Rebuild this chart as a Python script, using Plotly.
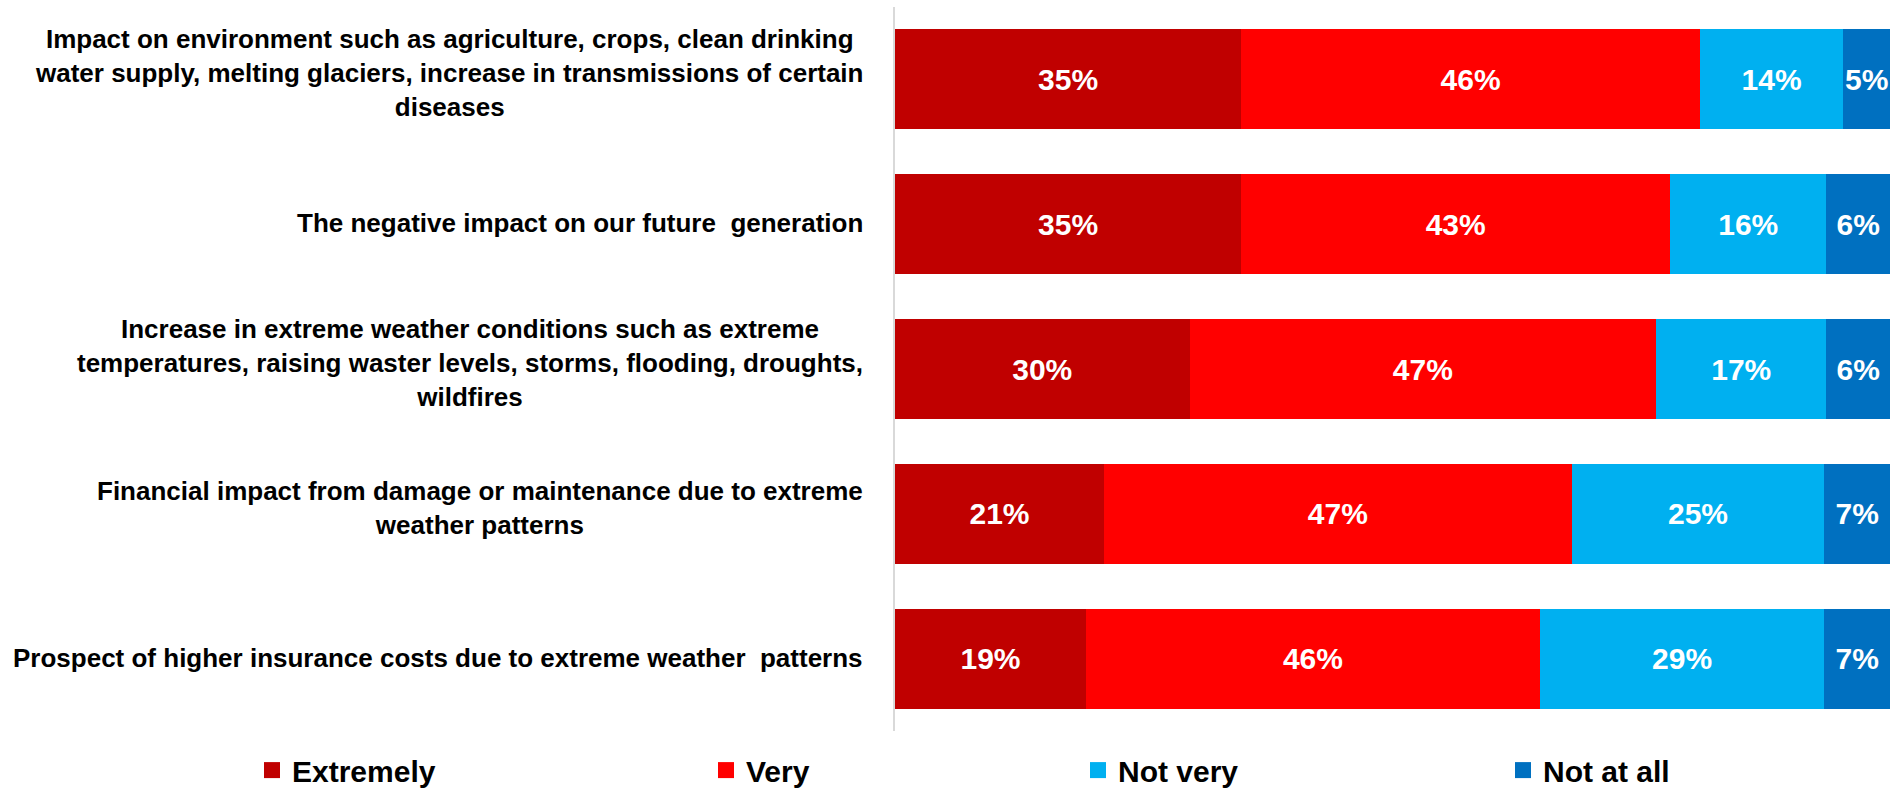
import plotly.graph_objects as go

categories = [
    "Impact on environment such as agriculture, crops, clean drinking<br>water supply, melting glaciers, increase in transmissions of certain<br>diseases",
    "The negative impact on our future  generation",
    "Increase in extreme weather conditions such as extreme<br>temperatures, raising waster levels, storms, flooding, droughts,<br>wildfires",
    "Financial impact from damage or maintenance due to extreme<br>weather patterns",
    "Prospect of higher insurance costs due to extreme weather  patterns",
]

extremely = [34.8, 34.8, 29.6, 21.0, 19.2]
very = [46.1, 43.1, 46.9, 47.0, 45.6]
not_very = [14.4, 15.7, 17.1, 25.4, 28.6]
not_at_all = [4.7, 6.4, 6.4, 6.6, 6.6]

series_names = ["Extremely", "Very", "Not very", "Not at all"]
series_values = [extremely, very, not_very, not_at_all]
colors = ["#C00000", "#FF0000", "#00B0F0", "#0070C0"]

FONT = "Arial, Liberation Sans, sans-serif"

fig = go.Figure()
for name, vals, col in zip(series_names, series_values, colors):
    fig.add_trace(go.Bar(
        y=categories, x=vals, orientation="h", name=name,
        marker=dict(color=col, line=dict(width=0)),
        texttemplate="%{x:.0f}%", textposition="inside", textangle=0,
        insidetextanchor="middle", constraintext="none",
        textfont=dict(family=FONT, size=30, color="white", weight="bold"),
        showlegend=False, hoverinfo="skip",
    ))

# legend entries (one legend per item so each can be placed like the original)
legend_ids = ["legend", "legend2", "legend3", "legend4"]
legend_x_px = [252, 706, 1078, 1503]
plot_left, plot_right = 895, 1890
for name, col, lid in zip(series_names, colors, legend_ids):
    fig.add_trace(go.Scatter(
        x=[None], y=[None], mode="markers", name=name,
        marker=dict(symbol="square", size=20, color=col),
        legend=lid, showlegend=True, hoverinfo="skip",
    ))

legend_layouts = {}
for lid, px in zip(legend_ids, legend_x_px):
    legend_layouts[lid] = dict(
        x=(px - plot_left) / (plot_right - plot_left), xanchor="left",
        y=-0.054, yanchor="middle", orientation="h",
        font=dict(family=FONT, size=30, color="black", weight="bold"),
        bgcolor="rgba(0,0,0,0)", borderwidth=0,
    )

annotations = []
for cat in categories:
    nlines = cat.count("<br>") + 1
    annotations.append(dict(
        x=0, xref="paper", xanchor="right", xshift=-30,
        y=cat, yref="y", yanchor="middle", yshift=1 if nlines == 1 else 6,
        text=cat, showarrow=False, align="center",
        font=dict(family=FONT, size=26, color="black", weight="bold"),
    ))

fig.update_layout(
    barmode="stack", bargap=0.31,
    width=1904, height=791,
    margin=dict(l=895, r=14, t=7, b=60, autoexpand=False),
    paper_bgcolor="white", plot_bgcolor="white",
    annotations=annotations,
    **legend_layouts,
)
fig.update_xaxes(range=[0, 100], showgrid=False, zeroline=False,
                 showticklabels=False, showline=False, fixedrange=True)
fig.update_yaxes(autorange="reversed", showticklabels=False, showgrid=False,
                 zeroline=False, showline=True, linecolor="#D9D9D9", linewidth=1.5,
                 ticks="", fixedrange=True)

fig.write_html(
    "out.html",
    config={"displayModeBar": False},
    post_script="document.body.style.margin='0';document.body.style.overflow='hidden';",
)
